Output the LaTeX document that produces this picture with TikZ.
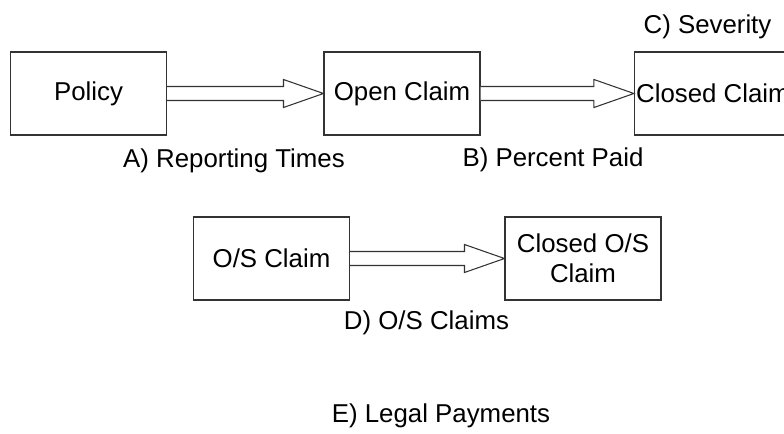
\documentclass[tikz,border=0pt]{standalone}
\usepackage{fontspec}
\setmainfont{Liberation Sans}
\usetikzlibrary{calc}

% Seta larga (corpo + cabeça aberta) entre dois nós
\newcommand{\setaBloco}[2]{%
  \draw[seta] ($(#1.east)+(0,-7)$) -- ($(#2.west)+(-40,-7)$) -- ($(#2.west)+(-40,-14)$)
    -- (#2.west) -- ($(#2.west)+(-40,14)$) -- ($(#2.west)+(-40,7)$) -- ($(#1.east)+(0,7)$);}

\begin{document}
\begin{tikzpicture}[x=0.02cm, y=-0.02cm,
    every node/.style={font=\fontsize{14.7}{17}\selectfont},
    caixa/.style={draw=black!80, line width=0.6pt, rectangle, minimum width=3.12cm,
      minimum height=1.66cm, inner xsep=1pt, align=center},
    rotulo/.style={anchor=base},
    seta/.style={draw=black!80, line width=0.6pt, fill=white, line join=miter}]

    \useasboundingbox (0,0) rectangle (784,433);

    % Estados do sinistro
    \node[caixa] (policy) at (88.5,93.5) {Policy};
    \node[caixa] (open) at (402,93.5) {Open Claim};
    \node[caixa] (closed) at (713,93.5) {Closed Claim};

    % Sinistros pendentes
    \node[caixa] (os) at (271.5,258.5) {O/S Claim};
    \node[caixa] (closedos) at (583,258.5) {Closed O/S\\Claim};

    % Rótulos
    \node[rotulo] (reporting) at (234,167) {A) Reporting Times};
    \node[rotulo] (percent) at (553,166) {B) Percent Paid};
    \node[rotulo] (severity) at (707.5,33) {C) Severity};
    \node[rotulo] (osclaims) at (426.5,329) {D) O/S Claims};
    \node[rotulo] (legal) at (441,422) {E) Legal Payments};

    % Setas
    \setaBloco{policy}{open}
    \setaBloco{open}{closed}
    \setaBloco{os}{closedos}

\end{tikzpicture}
\end{document}
